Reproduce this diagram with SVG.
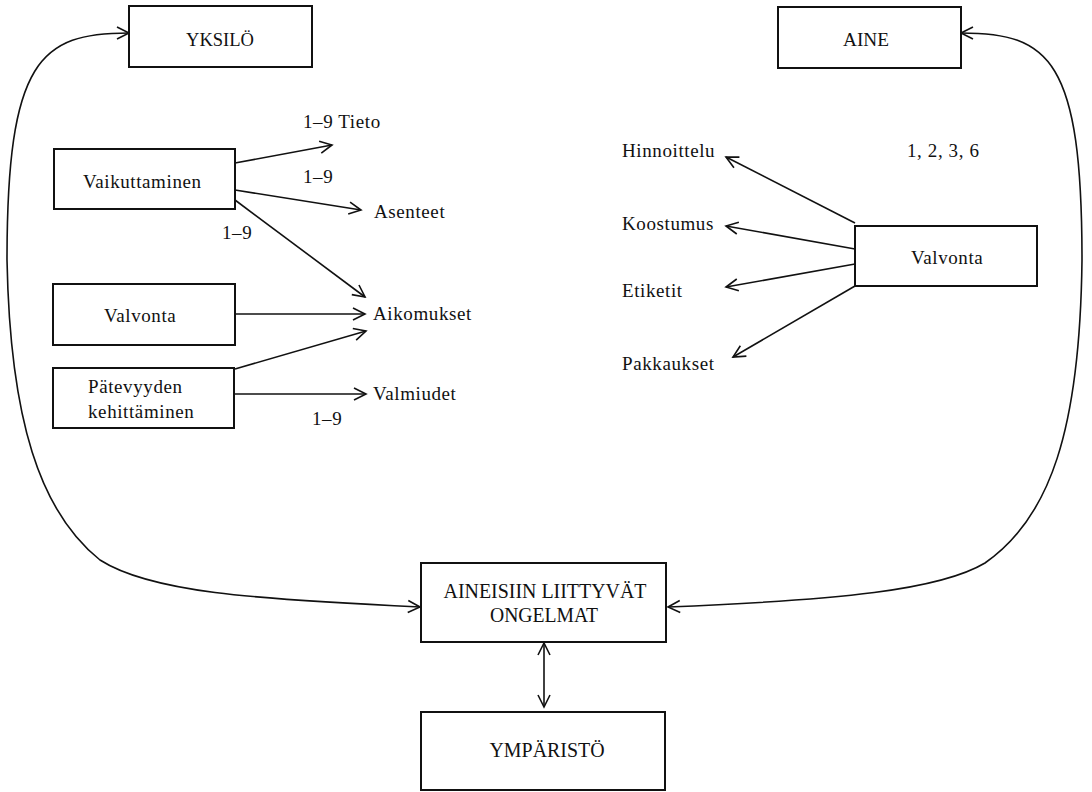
<svg xmlns="http://www.w3.org/2000/svg" width="1092" height="792" viewBox="0 0 1092 792">
<style>
.box{fill:#fff;stroke:#111;stroke-width:2}
.t{font-family:"Liberation Serif","Times New Roman",serif;font-size:19px;fill:#111;letter-spacing:0.6px}
.c{font-family:"Liberation Serif","Times New Roman",serif;font-size:18px;fill:#111}
.b{font-family:"Liberation Serif","Times New Roman",serif;font-size:20px;fill:#111}
.m{text-anchor:middle}
.ln{stroke:#111;stroke-width:1.6;fill:none;marker-end:url(#ah)}
.cv{stroke:#111;stroke-width:1.6;fill:none;marker-end:url(#ah);marker-start:url(#ahs)}
</style>
<defs>
<marker id="ah" markerUnits="userSpaceOnUse" markerWidth="16" markerHeight="16" refX="13" refY="7" orient="auto">
<path d="M1,1 L13,7 L1,13" fill="none" stroke="#111" stroke-width="1.6"/>
</marker>
<marker id="ahs" markerUnits="userSpaceOnUse" markerWidth="16" markerHeight="16" refX="13" refY="7" orient="auto-start-reverse">
<path d="M1,1 L13,7 L1,13" fill="none" stroke="#111" stroke-width="1.6"/>
</marker>
</defs>
<rect width="1092" height="792" fill="#fff"/>
<g id="connectors">
<path class="cv" d="M420,607 C250,599 150,592 100,560 C40,512 10,420 7,260 C7,60 40,33 129,33"/>
<path class="cv" d="M668,607 C840,600 940,590 985,563 C1050,518 1080,430 1082,260 C1082,60 1050,33 961,33"/>
<line class="cv" x1="544" y1="643" x2="544" y2="707"/>
<line class="ln" x1="235" y1="163" x2="332" y2="145"/>
<line class="ln" x1="235" y1="190" x2="361" y2="210"/>
<line class="ln" x1="235" y1="200" x2="365" y2="297"/>
<line class="ln" x1="235" y1="314" x2="365" y2="314"/>
<line class="ln" x1="235" y1="369" x2="366" y2="331"/>
<line class="ln" x1="235" y1="394" x2="366" y2="394"/>
<line class="ln" x1="855" y1="223" x2="726" y2="157"/>
<line class="ln" x1="855" y1="249" x2="726" y2="226"/>
<line class="ln" x1="855" y1="264" x2="726" y2="287"/>
<line class="ln" x1="855" y1="286" x2="733" y2="357"/>
</g>
<g id="yksilo"><rect class="box" x="129" y="6" width="183" height="61"/><text class="c m" x="220" y="46" textLength="68" lengthAdjust="spacingAndGlyphs">YKSILÖ</text></g>
<g id="aine"><rect class="box" x="778" y="7" width="183" height="61"/><text class="c m" x="866" y="46" textLength="46" lengthAdjust="spacingAndGlyphs">AINE</text></g>
<g id="vaikuttaminen"><rect class="box" x="54" y="149" width="181" height="60"/><text class="t" x="83" y="188">Vaikuttaminen</text></g>
<g id="valvonta-left"><rect class="box" x="53" y="284" width="182" height="61"/><text class="t" x="104" y="322">Valvonta</text></g>
<g id="patevyyden"><rect class="box" x="53" y="368" width="181" height="60"/><text class="t" x="88" y="393">Pätevyyden</text><text class="t" x="88" y="418">kehittäminen</text></g>
<g id="valvonta-right"><rect class="box" x="855" y="226" width="182" height="60"/><text class="t" x="911" y="264">Valvonta</text></g>
<g id="ongelmat"><rect class="box" x="421" y="563" width="245" height="79"/><text class="b m" x="545" y="598" textLength="203" lengthAdjust="spacingAndGlyphs">AINEISIIN LIITTYVÄT</text><text class="b m" x="544" y="622" textLength="108" lengthAdjust="spacingAndGlyphs">ONGELMAT</text></g>
<g id="ymparisto"><rect class="box" x="421" y="712" width="244" height="78"/><text class="b m" x="547" y="757" textLength="115" lengthAdjust="spacingAndGlyphs">YMPÄRISTÖ</text></g>
<g id="labels">
<text class="t" x="303" y="128">1–9 Tieto</text>
<text class="t" x="303" y="183">1–9</text>
<text class="t" x="374" y="218">Asenteet</text>
<text class="t" x="222" y="239">1–9</text>
<text class="t" x="373" y="320">Aikomukset</text>
<text class="t" x="373" y="400">Valmiudet</text>
<text class="t" x="312" y="425">1–9</text>
<text class="t" x="622" y="157">Hinnoittelu</text>
<text class="t" x="622" y="230">Koostumus</text>
<text class="t" x="622" y="297">Etiketit</text>
<text class="t" x="622" y="370">Pakkaukset</text>
<text class="t" x="907" y="157">1, 2, 3, 6</text>
</g>
</svg>
